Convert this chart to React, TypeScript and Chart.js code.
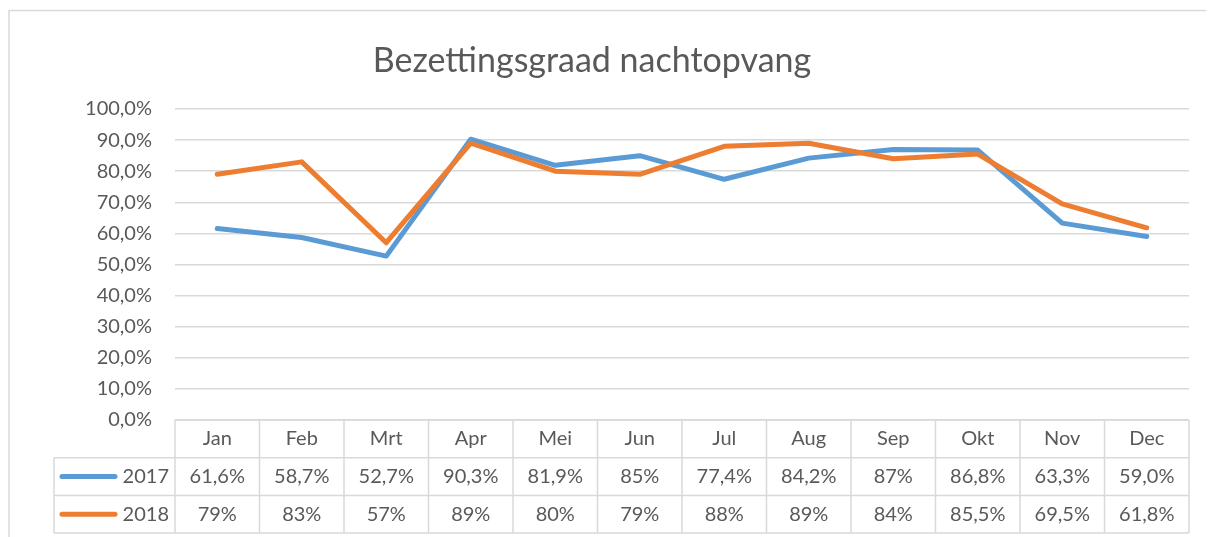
import { useEffect, useRef } from "react";
import { Chart, registerables } from "chart.js";

Chart.register(...registerables);

const title = "Bezettingsgraad nachtopvang";
const months = ["Jan", "Feb", "Mrt", "Apr", "Mei", "Jun", "Jul", "Aug", "Sep", "Okt", "Nov", "Dec"];
const seriesNames = ["2017", "2018"];
const values2017 = [61.6, 58.7, 52.7, 90.3, 81.9, 85, 77.4, 84.2, 87, 86.8, 63.3, 59.0];
const values2018 = [79, 83, 57, 89, 80, 79, 88, 89, 84, 85.5, 69.5, 61.8];
const labels2017 = ["61,6%", "58,7%", "52,7%", "90,3%", "81,9%", "85%", "77,4%", "84,2%", "87%", "86,8%", "63,3%", "59,0%"];
const labels2018 = ["79%", "83%", "57%", "89%", "80%", "79%", "88%", "89%", "84%", "85,5%", "69,5%", "61,8%"];
const yMin = 0;
const yMax = 100;
const yStep = 10;

const FONT = "Lato, 'Open Sans', sans-serif";
const TEXT = "#595959";
const BORDER = "#d9d9d9";
const BLUE = "#5b9bd5";
const ORANGE = "#ed7d31";

const decorPlugin = {
  id: "decor",
  beforeDraw(chart: any) {
    const ctx = chart.ctx;
    ctx.save();
    ctx.fillStyle = "#ffffff";
    ctx.fillRect(0, 0, chart.width, chart.height);
    ctx.strokeStyle = BORDER;
    ctx.lineWidth = 1.5;
    ctx.beginPath();
    ctx.moveTo(1, chart.height);
    ctx.lineTo(1, 2.5);
    ctx.lineTo(chart.width, 2.5);
    ctx.stroke();
    ctx.fillStyle = TEXT;
    ctx.font = `34px ${FONT}`;
    ctx.textAlign = "center";
    ctx.textBaseline = "alphabetic";
    ctx.fillText(title, 584, 64);
    ctx.restore();
  },
  afterDraw(chart: any) {
    const ctx = chart.ctx;
    const x = chart.scales.x;
    const area = chart.chartArea;
    const n = months.length;
    const colW = (x.right - x.left) / n;
    const rowH = 37.7;
    const top = area.bottom;
    const legendLeft = 46;
    ctx.save();
    ctx.strokeStyle = BORDER;
    ctx.lineWidth = 1.5;
    ctx.beginPath();
    ctx.moveTo(x.left, top);
    ctx.lineTo(x.right, top);
    for (let r = 1; r <= 3; r++) {
      ctx.moveTo(legendLeft, top + r * rowH);
      ctx.lineTo(x.right, top + r * rowH);
    }
    for (let i = 0; i <= n; i++) {
      const xx = x.left + i * colW;
      ctx.moveTo(xx, top);
      ctx.lineTo(xx, top + 3 * rowH);
    }
    ctx.moveTo(legendLeft, top + rowH);
    ctx.lineTo(legendLeft, top + 3 * rowH);
    ctx.stroke();

    ctx.fillStyle = TEXT;
    ctx.font = `20px ${FONT}`;
    ctx.textAlign = "center";
    ctx.textBaseline = "middle";
    months.forEach((m, i) => {
      ctx.fillText(m, x.getPixelForValue(i), top + rowH / 2);
    });
    const rows = [labels2017, labels2018];
    const colors = [BLUE, ORANGE];
    rows.forEach((row, r) => {
      const cy = top + (r + 1.5) * rowH;
      row.forEach((t, i) => {
        ctx.fillText(t, x.getPixelForValue(i), cy);
      });
      ctx.save();
      ctx.strokeStyle = colors[r];
      ctx.lineWidth = 5;
      ctx.lineCap = "round";
      ctx.beginPath();
      ctx.moveTo(54, cy);
      ctx.lineTo(107, cy);
      ctx.stroke();
      ctx.restore();
      ctx.textAlign = "right";
      ctx.fillText(seriesNames[r], x.left - 6, cy);
      ctx.textAlign = "center";
    });
    ctx.restore();
  },
};

export default function App() {
  const ref = useRef<HTMLCanvasElement | null>(null);
  useEffect(() => {
    if (!ref.current) return;
    const chart = new Chart(ref.current, {
      type: "line",
      data: {
        labels: months,
        datasets: [
          {
            label: seriesNames[0],
            data: values2017,
            borderColor: BLUE,
            backgroundColor: BLUE,
            borderWidth: 5,
            pointRadius: 0,
            tension: 0,
            order: 1,
            borderCapStyle: "round",
            borderJoinStyle: "round",
          },
          {
            label: seriesNames[1],
            data: values2018,
            borderColor: ORANGE,
            backgroundColor: ORANGE,
            borderWidth: 5,
            pointRadius: 0,
            tension: 0,
            order: 0,
            borderCapStyle: "round",
            borderJoinStyle: "round",
          },
        ],
      },
      options: {
        animation: false,
        responsive: false,
        maintainAspectRatio: false,
        layout: { padding: { left: 0, right: 25, top: 101, bottom: 117 } },
        plugins: {
          legend: { display: false },
          title: { display: false },
          tooltip: { enabled: false },
        },
        scales: {
          x: {
            type: "category",
            offset: true,
            display: false,
          },
          y: {
            min: yMin,
            max: yMax,
            afterFit: (s: any) => {
              s.width = 167;
            },
            border: { display: false },
            grid: { color: BORDER, lineWidth: 1.5, drawTicks: false },
            ticks: {
              stepSize: yStep,
              padding: 23,
              color: TEXT,
              font: { family: FONT, size: 20 },
              callback: (v: any) => `${v},0%`,
            },
          },
        },
      },
      plugins: [decorPlugin],
    });
    return () => chart.destroy();
  }, []);
  return (
    <div style={{ width: 1206, height: 529 }}>
      <canvas ref={ref} width={1206} height={529} style={{ display: "block" }} />
    </div>
  );
}
